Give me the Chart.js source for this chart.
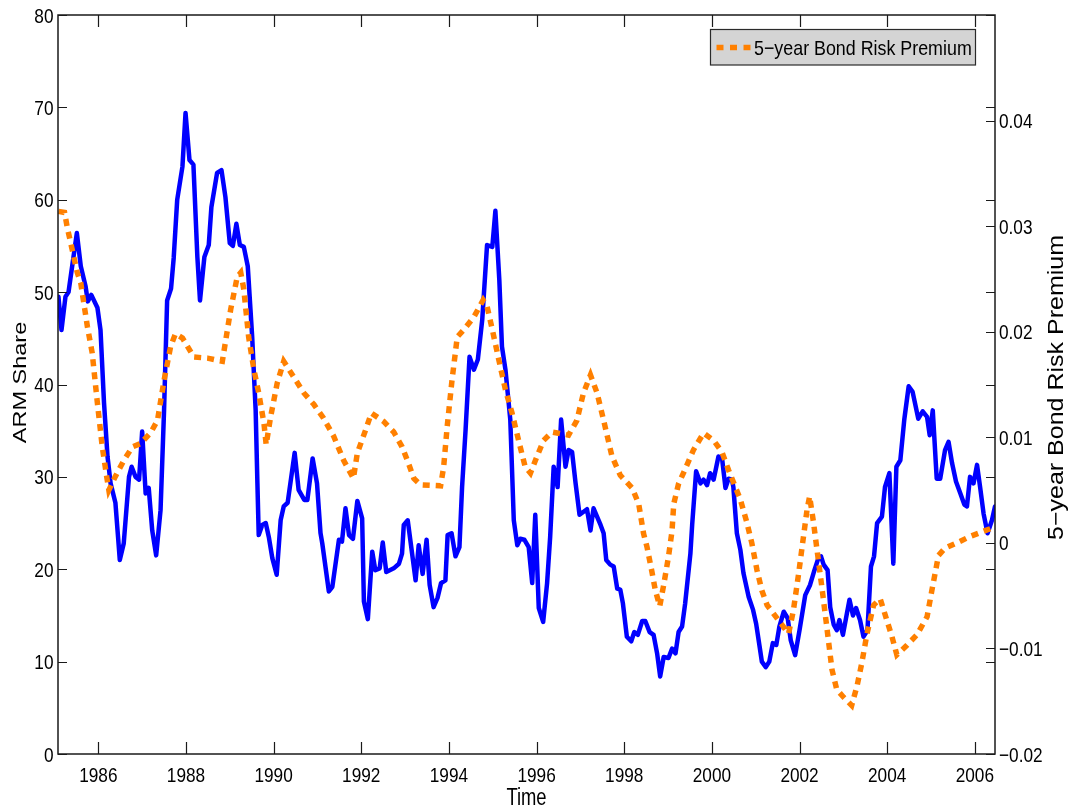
<!DOCTYPE html>
<html>
<head>
<meta charset="utf-8">
<script src="https://cdn.jsdelivr.net/npm/chart.js@4.4.1/dist/chart.umd.min.js"></script>
<style>
  html, body { margin: 0; padding: 0; background: #fff; }
  canvas { display: block; }
</style>
</head>
<body>
<canvas id="chart" width="1069" height="810"></canvas>
<script>
// Share of adjustable-rate mortgages (percent), by decimal year
const armYears = [
  1985.09,1985.16,1985.25,1985.32,1985.51,1985.60,1985.71,1985.76,1985.84,1985.98,
  1986.05,1986.13,1986.21,1986.28,1986.39,1986.45,1986.49,1986.58,1986.70,1986.76,
  1986.85,1986.93,1987.00,1987.08,1987.15,1987.23,1987.32,1987.42,1987.50,1987.57,
  1987.66,1987.72,1987.80,1987.92,1987.99,1988.08,1988.17,1988.26,1988.32,1988.42,
  1988.52,1988.58,1988.71,1988.81,1988.90,1989.00,1989.07,1989.15,1989.23,1989.32,
  1989.41,1989.51,1989.59,1989.63,1989.66,1989.74,1989.82,1989.89,1989.97,1990.07,
  1990.16,1990.23,1990.32,1990.48,1990.57,1990.70,1990.77,1990.89,1990.99,1991.07,
  1991.11,1991.26,1991.34,1991.49,1991.56,1991.64,1991.72,1991.81,1991.91,1992.02,
  1992.06,1992.15,1992.25,1992.32,1992.42,1992.49,1992.57,1992.74,1992.86,1992.93,
  1992.97,1993.06,1993.24,1993.31,1993.40,1993.49,1993.56,1993.65,1993.74,1993.82,
  1993.92,1993.97,1994.06,1994.15,1994.24,1994.30,1994.38,1994.47,1994.57,1994.66,
  1994.76,1994.87,1994.99,1995.06,1995.15,1995.21,1995.29,1995.40,1995.48,1995.56,
  1995.63,1995.72,1995.82,1995.90,1995.97,1996.05,1996.15,1996.24,1996.31,1996.39,
  1996.48,1996.56,1996.66,1996.73,1996.81,1996.89,1996.98,1997.15,1997.23,1997.30,
  1997.46,1997.53,1997.59,1997.68,1997.76,1997.84,1997.91,1997.97,1998.06,1998.16,
  1998.23,1998.31,1998.41,1998.48,1998.58,1998.67,1998.75,1998.82,1998.90,1999.01,
  1999.09,1999.17,1999.24,1999.32,1999.39,1999.51,1999.55,1999.64,1999.74,1999.81,
  1999.89,1999.96,2000.04,2000.15,2000.23,2000.31,2000.38,2000.46,2000.49,2000.57,
  2000.65,2000.72,2000.84,2000.94,2001.01,2001.09,2001.14,2001.23,2001.31,2001.39,
  2001.47,2001.54,2001.64,2001.73,2001.80,2001.90,2002.00,2002.13,2002.24,2002.34,
  2002.43,2002.49,2002.55,2002.64,2002.70,2002.78,2002.85,2002.91,2002.99,2003.08,
  2003.14,2003.22,2003.29,2003.38,2003.46,2003.55,2003.63,2003.70,2003.77,2003.88,
  2003.95,2004.05,2004.14,2004.21,2004.30,2004.39,2004.49,2004.58,2004.71,2004.81,
  2004.91,2004.97,2005.04,2005.13,2005.21,2005.32,2005.40,2005.48,2005.57,2005.67,
  2005.76,2005.82,2005.89,2005.97,2006.05,2006.12,2006.20,2006.29,2006.39,2006.46
];
const armShare = [
  49.5,45.9,49.5,50.0,56.4,52.8,50.6,49.0,49.7,48.3,
  45.9,38.0,32.2,29.3,27.2,23.5,21.0,22.8,30.0,31.1,
  30.0,29.7,34.9,28.2,28.8,24.2,21.5,26.4,37.2,49.1,
  50.4,53.7,60.0,63.6,69.4,64.3,63.8,53.8,49.1,53.8,
  55.1,59.2,62.9,63.2,60.3,55.3,55.0,57.4,55.1,54.9,
  52.8,45.2,37.2,29.3,23.7,24.8,25.0,23.5,21.2,19.4,
  25.3,26.8,27.2,32.6,28.6,27.5,27.5,32.0,29.3,23.9,
  22.8,17.6,18.1,23.2,23.0,26.6,23.7,23.3,27.4,25.5,
  16.5,14.6,21.9,19.9,20.1,22.9,19.7,20.1,20.6,21.7,
  24.8,25.3,18.8,22.6,19.5,23.2,18.3,15.9,16.9,18.5,
  18.8,23.7,23.9,21.4,22.4,28.9,35.1,43.0,41.6,42.7,
  47.0,55.1,54.9,58.8,51.3,44.1,41.6,36.2,25.3,22.6,
  23.3,23.2,22.4,18.5,25.9,15.8,14.3,18.5,23.5,31.1,
  28.9,36.2,31.1,32.9,32.7,29.3,25.9,26.5,24.2,26.6,
  24.8,23.9,21.0,20.5,20.3,17.9,17.8,16.3,12.7,12.2,
  13.2,12.9,14.4,14.4,13.2,12.9,10.9,8.4,10.5,10.4,
  11.4,10.9,13.2,13.8,16.3,21.7,24.8,30.6,29.3,29.7,
  29.1,30.4,29.7,32.2,32.1,28.8,29.8,29.7,28.9,23.9,
  22.1,19.6,17.0,15.6,14.1,11.6,10.0,9.4,10.0,12.0,
  11.8,13.8,15.4,14.7,12.3,10.7,13.4,17.2,18.3,19.9,
  21.2,21.4,20.5,19.9,15.9,14.0,13.4,14.5,12.9,15.2,
  16.7,15.0,15.8,14.5,12.7,13.4,20.3,21.4,25.0,25.7,
  28.9,30.4,20.6,31.1,31.8,36.2,39.8,39.2,36.3,37.1,
  36.5,34.5,37.2,29.8,29.8,32.9,33.8,31.5,29.5,28.2,
  27.0,26.8,30.0,29.3,31.3,28.9,26.0,23.9,25.3,26.8
];

// 5-year bond risk premium, by decimal year
const premiumYears = [
  1985.09,1985.23,1985.29,1985.52,1985.60,1985.75,1985.86,1985.98,1986.09,1986.19,
  1986.24,1986.39,1986.58,1986.78,1986.96,1987.19,1987.35,1987.50,1987.65,1987.76,
  1987.92,1988.18,1988.49,1988.83,1989.02,1989.17,1989.25,1989.32,1989.43,1989.55,
  1989.66,1989.78,1989.83,1989.93,1990.08,1990.23,1990.46,1990.69,1990.92,1991.14,
  1991.37,1991.60,1991.82,1991.91,1992.10,1992.23,1992.51,1992.74,1992.93,1993.08,
  1993.20,1993.35,1993.81,1993.88,1993.96,1994.07,1994.19,1994.34,1994.57,1994.78,
  1994.87,1994.99,1995.14,1995.29,1995.44,1995.59,1995.74,1995.86,1996.01,1996.16,
  1996.35,1996.73,1996.92,1997.07,1997.23,1997.38,1997.53,1997.72,1997.91,1998.18,
  1998.33,1998.44,1998.52,1998.63,1998.71,1998.81,1998.90,1999.01,1999.09,1999.13,
  1999.24,1999.35,1999.58,1999.81,2000.04,2000.23,2000.38,2000.65,2000.80,2000.91,
  2001.03,2001.14,2001.26,2001.48,2001.75,2001.86,2001.98,2002.09,2002.17,2002.23,
  2002.32,2002.40,2002.51,2002.62,2002.74,2002.85,2003.00,2003.19,2003.31,2003.42,
  2003.54,2003.69,2003.84,2003.99,2004.11,2004.22,2004.45,2004.68,2004.91,2005.02,
  2005.17,2005.32,2005.59,2005.89,2006.20,2006.46
];
const premiumValues = [
  0.0314,0.0313,0.0299,0.0256,0.0246,0.0205,0.0180,0.0132,0.0091,0.0063,
  0.0050,0.0063,0.0078,0.0091,0.0094,0.0104,0.0116,0.0154,0.0186,0.0198,
  0.0194,0.0176,0.0175,0.0172,0.0221,0.0252,0.0256,0.0240,0.0195,0.0164,
  0.0142,0.0113,0.0093,0.0119,0.0151,0.0172,0.0157,0.0142,0.0131,0.0118,
  0.0101,0.0078,0.0061,0.0085,0.0107,0.0123,0.0115,0.0105,0.0091,0.0075,
  0.0061,0.0055,0.0054,0.0072,0.0110,0.0154,0.0195,0.0202,0.0214,0.0230,
  0.0224,0.0202,0.0173,0.0145,0.0123,0.0097,0.0072,0.0066,0.0082,0.0097,
  0.0105,0.0102,0.0116,0.0142,0.0159,0.0142,0.0116,0.0082,0.0064,0.0052,
  0.0037,0.0009,-0.0004,-0.0027,-0.0045,-0.0060,-0.0040,-0.0013,0.0011,0.0037,
  0.0056,0.0066,0.0088,0.0104,0.0097,0.0086,0.0069,0.0041,0.0019,0.0000,
  -0.0026,-0.0045,-0.0059,-0.0071,-0.0086,-0.0064,-0.0029,0.0006,0.0031,0.0044,
  0.0019,-0.0007,-0.0042,-0.0079,-0.0120,-0.0139,-0.0146,-0.0154,-0.0136,-0.0114,
  -0.0086,-0.0059,-0.0053,-0.0073,-0.0089,-0.0106,-0.0097,-0.0087,-0.0070,-0.0045,
  -0.0012,-0.0005,0.0000,0.0006,0.0011,0.0015
];

// Axis ranges and tick positions
const timeRange = [1985.08, 2006.46];
const timeTicks = [1986, 1988, 1990, 1992, 1994, 1996, 1998, 2000, 2002, 2004, 2006];
const shareRange = [0, 80];
const shareTicks = [0, 10, 20, 30, 40, 50, 60, 70, 80];
const premiumRange = [-0.02, 0.05];
const premiumTicks = [-0.02, -0.01, 0, 0.01, 0.02, 0.03, 0.04];

const armLabel = 'ARM Share';
const premiumLabel = '5\u2212year Bond Risk Premium';
const timeLabel = 'Time';

const SANS = '"Liberation Sans", Arial, Helvetica, sans-serif';
const INK = '#000000';
const SQUEEZE = 0.82;   // condensed look of the figure's lettering

function setTicks(values) {
  return scale => { scale.ticks = values.map(v => ({ value: v })); };
}
function fmtPremium(v) {
  if (Math.abs(v) < 1e-9) return '0';
  return (v < 0 ? '\u2212' : '') + Math.abs(v).toFixed(2);
}
// horizontal text squeezed in x
function squeezedText(ctx, text, x, y, align, sx) {
  ctx.save();
  ctx.translate(x, y);
  ctx.scale(sx, 1);
  ctx.textAlign = align;
  ctx.fillText(text, 0, 0);
  ctx.restore();
}
// vertical text reading bottom-to-top, thinned across its height
function verticalText(ctx, text, x, y, sy) {
  ctx.save();
  ctx.translate(x, y);
  ctx.rotate(-Math.PI / 2);
  ctx.scale(1, sy);
  ctx.textAlign = 'center';
  ctx.fillText(text, 0, 0);
  ctx.restore();
}

// Box, inward tick marks, tick labels, legend and axis titles in the style of a MATLAB figure
const figureDecor = {
  id: 'figureDecor',
  afterDatasetsDraw(chart) {
    const { ctx, chartArea: a, scales } = chart;
    ctx.save();
    ctx.setLineDash([]);
    ctx.strokeStyle = '#1a1a1a';
    ctx.lineWidth = 1.5;
    ctx.strokeRect(a.left, a.top, a.right - a.left, a.bottom - a.top);

    ctx.lineWidth = 1.2;
    ctx.beginPath();
    scales.x.ticks.forEach(t => {
      const p = Math.round(scales.x.getPixelForValue(t.value)) + 0.5;
      ctx.moveTo(p, a.bottom); ctx.lineTo(p, a.bottom - 12);
      ctx.moveTo(p, a.top); ctx.lineTo(p, a.top + 12);
    });
    scales.y.ticks.forEach(t => {
      const p = Math.round(scales.y.getPixelForValue(t.value)) + 0.5;
      ctx.moveTo(a.left, p); ctx.lineTo(a.left + 9, p);
      ctx.moveTo(a.right, p); ctx.lineTo(a.right - 9, p);
    });
    scales.y2.ticks.forEach(t => {
      const p = Math.round(scales.y2.getPixelForValue(t.value)) + 0.5;
      ctx.moveTo(a.right, p); ctx.lineTo(a.right - 9, p);
    });
    ctx.stroke();

    // legend for the premium series
    const ds = chart.data.datasets.find(d => d.yAxisID === 'y2');
    const lx = 710.5, ly = 29.5, lw = 265, lh = 35.5;
    ctx.fillStyle = '#d4d4d4';
    ctx.fillRect(lx, ly, lw, lh);
    ctx.strokeStyle = '#2a2a2a';
    ctx.lineWidth = 1.2;
    ctx.strokeRect(lx, ly, lw, lh);
    ctx.strokeStyle = ds.borderColor;
    ctx.lineWidth = 5.5;
    ctx.setLineDash([7, 6.5]);
    ctx.beginPath();
    ctx.moveTo(716.5, 47.5); ctx.lineTo(751, 47.5);
    ctx.stroke();
    ctx.setLineDash([]);
    ctx.fillStyle = INK;
    ctx.font = '21px ' + SANS;
    ctx.textBaseline = 'alphabetic';
    squeezedText(ctx, ds.label, 754, 55, 'left', 0.85);
    ctx.restore();
  },
  afterDraw(chart) {
    const { ctx, chartArea: a, scales } = chart;
    ctx.save();
    ctx.fillStyle = INK;
    ctx.textBaseline = 'alphabetic';

    // tick labels
    ctx.font = '21px ' + SANS;
    const half = 7.5;
    scales.x.ticks.forEach(t => {
      squeezedText(ctx, String(t.value), scales.x.getPixelForValue(t.value), a.bottom + 27.5, 'center', SQUEEZE);
    });
    scales.y.ticks.forEach(t => {
      squeezedText(ctx, String(t.value), a.left - 4.5, scales.y.getPixelForValue(t.value) + half, 'right', SQUEEZE);
    });
    scales.y2.ticks.forEach(t => {
      squeezedText(ctx, fmtPremium(t.value), a.right + 4, scales.y2.getPixelForValue(t.value) + half, 'left', SQUEEZE);
    });

    // axis titles
    ctx.font = '23px ' + SANS;
    squeezedText(ctx, timeLabel, (a.left + a.right) / 2, 805, 'center', 0.8);

    ctx.font = '23.5px ' + SANS;
    verticalText(ctx, armLabel, 25.7, 382.5, 0.8);

    ctx.font = '25px ' + SANS;
    verticalText(ctx, premiumLabel, 1062.5, 387.5, 0.85);

    ctx.restore();
  }
};

const hiddenTicks = { display: false };

new Chart(document.getElementById('chart'), {
  type: 'line',
  data: {
    datasets: [
      {
        label: armLabel,
        data: armYears.map((x, i) => ({ x, y: armShare[i] })),
        yAxisID: 'y',
        borderColor: '#0000ff',
        borderWidth: 4.5,
        borderJoinStyle: 'round',
        borderCapStyle: 'round',
        pointRadius: 0,
        tension: 0,
        fill: false,
        clip: 0,
        order: 2
      },
      {
        label: premiumLabel,
        data: premiumYears.map((x, i) => ({ x, y: premiumValues[i] })),
        yAxisID: 'y2',
        borderColor: '#ff8000',
        borderWidth: 5.5,
        borderDash: [7, 6],
        borderCapStyle: 'butt',
        borderJoinStyle: 'miter',
        pointRadius: 0,
        tension: 0,
        fill: false,
        clip: 0,
        order: 1
      }
    ]
  },
  options: {
    responsive: false,
    animation: false,
    devicePixelRatio: 1,
    events: [],
    layout: { padding: { top: 15, left: 0, right: 0, bottom: 0 } },
    plugins: { legend: { display: false }, tooltip: { enabled: false } },
    scales: {
      x: {
        type: 'linear',
        position: 'bottom',
        min: timeRange[0],
        max: timeRange[1],
        afterBuildTicks: setTicks(timeTicks),
        afterFit: s => { s.height = 56; },
        grid: { display: false, drawTicks: false },
        border: { display: false },
        ticks: hiddenTicks
      },
      y: {
        type: 'linear',
        position: 'left',
        min: shareRange[0],
        max: shareRange[1],
        afterBuildTicks: setTicks(shareTicks),
        afterFit: s => { s.width = 58; },
        grid: { display: false, drawTicks: false },
        border: { display: false },
        ticks: hiddenTicks
      },
      y2: {
        type: 'linear',
        position: 'right',
        min: premiumRange[0],
        max: premiumRange[1],
        afterBuildTicks: setTicks(premiumTicks),
        afterFit: s => { s.width = 74; },
        grid: { display: false, drawTicks: false },
        border: { display: false },
        ticks: hiddenTicks
      }
    }
  },
  plugins: [figureDecor]
});
</script>
</body>
</html>
